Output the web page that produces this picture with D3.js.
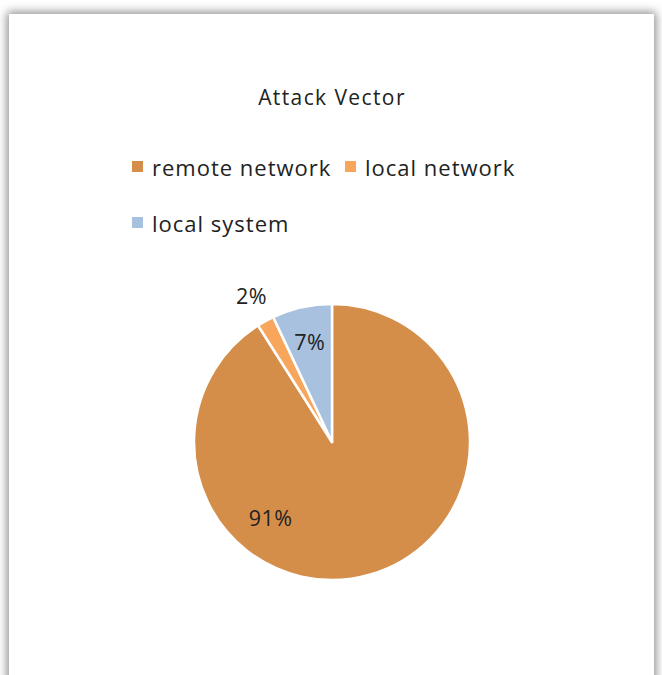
<!DOCTYPE html>
<html>
<head>
<meta charset="utf-8">
<script src="https://cdn.jsdelivr.net/npm/d3@7"></script>
<style>
  html, body { margin: 0; padding: 0; background: #fff; overflow: hidden; }
  #card {
    position: absolute;
    left: 9px; top: 14px;
    width: 645px; height: 700px;
    background: #fff;
    box-shadow: 0 0 9px 2px rgba(0,0,0,0.45);
  }
  text { font-family: "Open Sans", Lato, sans-serif; fill: #222; }
</style>
</head>
<body>
<div id="card"></div>
<script>
// data
const categories = ["remote network", "local network", "local system"];
const values = [91, 2, 7];
const colors = ["#D58E4A", "#F8A65B", "#A7C1DF"];
const title = "Attack Vector";

const width = 645, height = 700;
const svg = d3.select("#card").append("svg")
    .attr("width", width)
    .attr("height", height);

// title
svg.append("text")
    .attr("x", 323)
    .attr("y", 91)
    .attr("text-anchor", "middle")
    .style("font-size", "21px")
    .style("letter-spacing", "1.4px")
    .text(title);

// legend: two on the first row, one on the second
const legendPos = [[123, 154], [336, 154], [123, 210]];
const legend = svg.selectAll("g.legend")
    .data(categories)
    .enter().append("g")
    .attr("class", "legend")
    .attr("transform", (d, i) => "translate(" + legendPos[i][0] + "," + legendPos[i][1] + ")");

legend.append("rect")
    .attr("x", 0).attr("y", -7)
    .attr("width", 11).attr("height", 11)
    .attr("fill", (d, i) => colors[i]);

legend.append("text")
    .attr("x", 20)
    .attr("y", 8)
    .style("font-size", "22px")
    .style("letter-spacing", "1px")
    .text(d => d);

// pie
const cx = 323, cy = 428, r = 138;
const pie = d3.pie().sort(null).value(d => d);
const arcs = pie(values);
const arc = d3.arc().innerRadius(0).outerRadius(r);

const g = svg.append("g").attr("transform", "translate(" + cx + "," + cy + ")");

g.selectAll("path")
    .data(arcs)
    .enter().append("path")
    .attr("d", arc)
    .attr("fill", (d, i) => colors[i])
    .attr("stroke", "#fff")
    .attr("stroke-width", 2.5)
    .attr("stroke-linejoin", "round");

// label placement: radius factor and angle shift (radians), like excel best fit
const labelK = [0.71, 1.21, 0.74];
const labelShift = [0.96, 0, 0];
const total = d3.sum(values);

g.selectAll("text.lbl")
    .data(arcs)
    .enter().append("text")
    .attr("class", "lbl")
    .attr("text-anchor", "middle")
    .style("font-size", "21.5px")
    .style("letter-spacing", "0.5px")
    .attr("x", (d, i) => {
        const a = (d.startAngle + d.endAngle) / 2 + labelShift[i];
        return Math.sin(a) * r * labelK[i];
    })
    .attr("y", (d, i) => {
        const a = (d.startAngle + d.endAngle) / 2 + labelShift[i];
        return -Math.cos(a) * r * labelK[i] + 8;
    })
    .text(d => Math.round(d.value / total * 100) + "%");
</script>
</body>
</html>
